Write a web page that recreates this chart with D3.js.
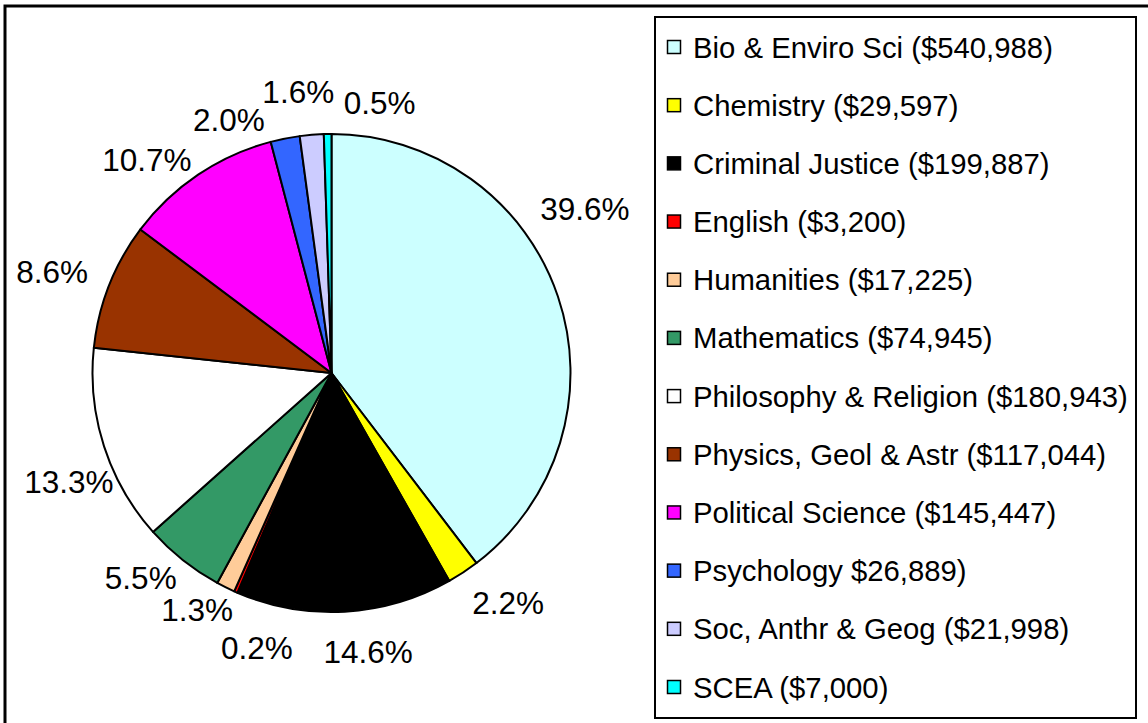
<!DOCTYPE html>
<html>
<head>
<meta charset="utf-8">
<script src="https://cdn.jsdelivr.net/npm/d3@7"></script>
<style>
  html, body { margin: 0; padding: 0; background: #fff; }
  svg { display: block; font-family: "Liberation Sans", Arial, sans-serif; }
</style>
</head>
<body>
<svg id="chart" width="1148" height="723"></svg>
<script>
// ---- data ----
const categories = [
  "Bio & Enviro Sci", "Chemistry", "Criminal Justice", "English", "Humanities",
  "Mathematics", "Philosophy & Religion", "Physics, Geol & Astr",
  "Political Science", "Psychology", "Soc, Anthr & Geog", "SCEA"
];
const legendLabels = [
  "Bio & Enviro Sci ($540,988)", "Chemistry ($29,597)", "Criminal Justice ($199,887)",
  "English ($3,200)", "Humanities ($17,225)", "Mathematics ($74,945)",
  "Philosophy & Religion ($180,943)", "Physics, Geol & Astr ($117,044)",
  "Political Science ($145,447)", "Psychology $26,889)", "Soc, Anthr & Geog ($21,998)",
  "SCEA ($7,000)"
];
const values = [540988, 29597, 199887, 3200, 17225, 74945, 180943, 117044, 145447, 26889, 21998, 7000];
const colors = ["#CCFFFF", "#FFFF00", "#000000", "#FF0000", "#FFCC99", "#339966",
                "#FFFFFF", "#993300", "#FF00FF", "#3366FF", "#CCCCFF", "#00FFFF"];

// ---- layout (label placement nudges, degrees / px) ----
const labelAngleNudge = [-14.3, -4.1, -4.3, -8.4, 3.3, 4.5, -4.6, -1.6, -7.0, -10.9, -2.0, 11.0];
const labelRadius     = [302, 290, 281, 285, 272, 280, 284, 297, 282, 273, 283, 275];

const svg = d3.select("#chart");
const W = 1148, H = 723;

// outer frame (right/bottom run off the canvas)
svg.append("rect").attr("x", 5).attr("y", 6).attr("width", W + 10).attr("height", H + 10)
  .attr("fill", "#fff").attr("stroke", "#000").attr("stroke-width", 3);

const cx = 331.5, cy = 373, r = 239;
const g = svg.append("g").attr("transform", `translate(${cx},${cy})`);

const pie = d3.pie().sort(null).value(d => d)(values);
const arc = d3.arc().innerRadius(0).outerRadius(r);
const total = d3.sum(values);

g.selectAll("path.slice").data(pie).join("path")
  .attr("class", "slice")
  .attr("d", arc)
  .attr("fill", (d, i) => colors[i])
  .attr("stroke", "#000")
  .attr("stroke-width", 2)
  .attr("stroke-linejoin", "round");

const fmt = d3.format(".1%");
const fsL = 31.5, fs = 29.3;
g.selectAll("text.lbl").data(pie).join("text")
  .attr("class", "lbl")
  .attr("text-anchor", "middle")
  .attr("font-size", fsL)
  .attr("fill", "#000")
  .each(function (d, i) {
    const mid = (d.startAngle + d.endAngle) / 2 + labelAngleNudge[i] * Math.PI / 180;
    const R = labelRadius[i];
    const x = Math.sin(mid) * R, y = -Math.cos(mid) * R;
    d3.select(this).attr("x", x).attr("y", y + fsL * 0.36);
  })
  .text(d => fmt(d.value / total));

// legend
const lx = 655, ly = 17, lw = 481, lh = 701;
svg.append("rect").attr("x", lx).attr("y", ly).attr("width", lw).attr("height", lh)
  .attr("fill", "#fff").attr("stroke", "#000").attr("stroke-width", 2);

const rowY = d3.scalePoint().domain(categories).range([47, 687]);
const leg = svg.append("g").selectAll("g").data(categories).join("g")
  .attr("transform", d => `translate(0,${rowY(d)})`);
leg.append("rect")
  .attr("x", 667.5).attr("y", -6.5).attr("width", 13).attr("height", 13)
  .attr("fill", (d, i) => colors[i]).attr("stroke", "#000").attr("stroke-width", 1.5);
leg.append("text")
  .attr("x", 693).attr("y", fs * 0.36)
  .attr("font-size", fs).attr("fill", "#000")
  .text((d, i) => legendLabels[i]);
</script>
</body>
</html>
